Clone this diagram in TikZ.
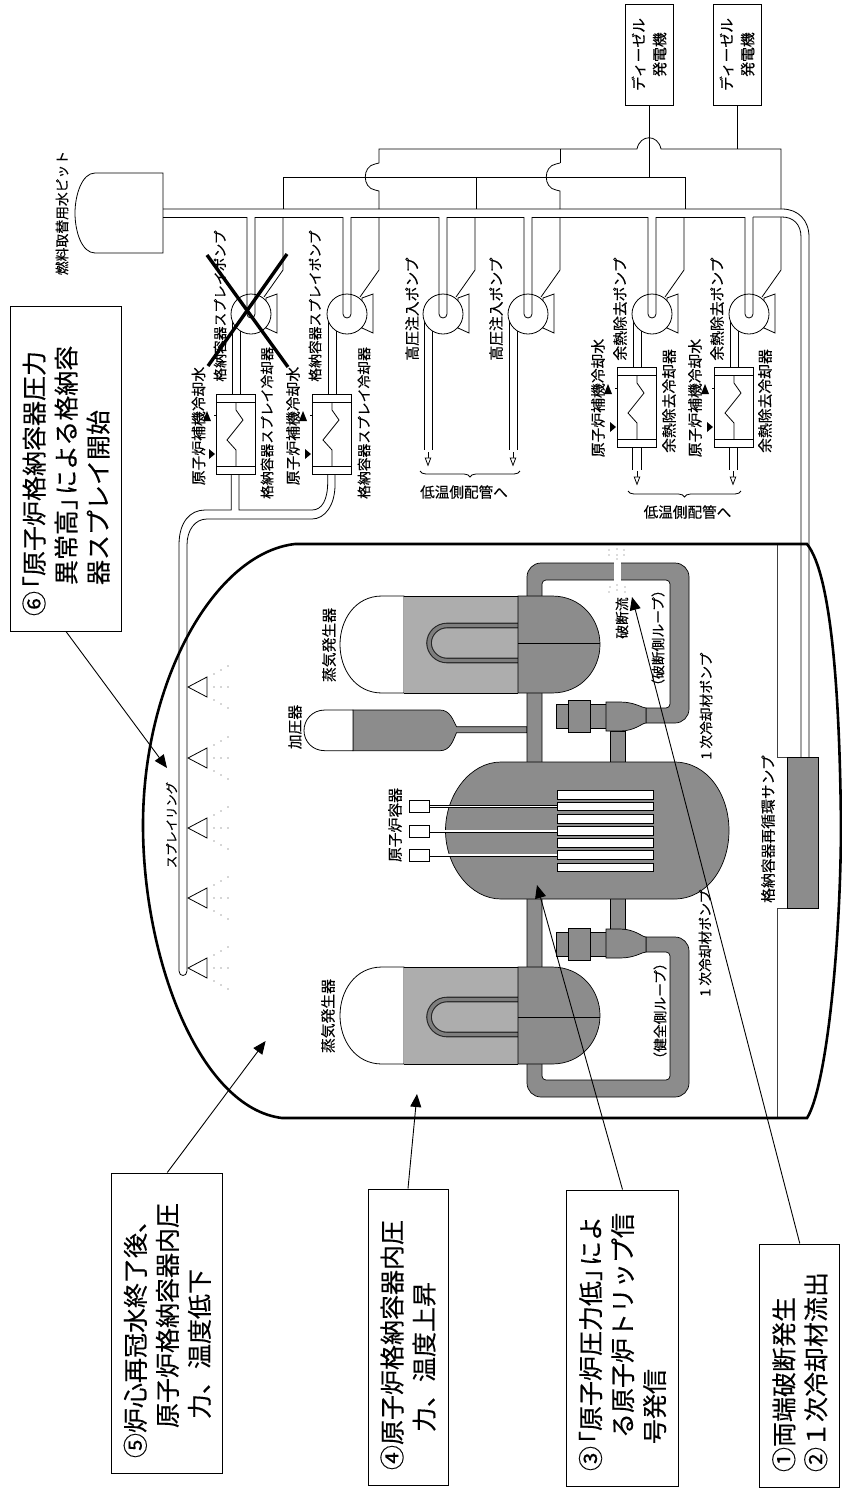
\documentclass[tikz,border=0pt]{standalone}
\usepackage{fontspec}
\setmainfont{Noto Sans CJK JP}[FakeBold=0.25]
\usetikzlibrary{arrows.meta, decorations.pathreplacing}
\definecolor{coolant}{gray}{0.55}
\definecolor{secondary}{gray}{0.68}
\tikzset{
  pipe/.style={line width=0.8pt, draw=black},
  shell/.style={line width=0.7pt, draw=black, fill=coolant},
  steam/.style={line width=0.7pt, draw=black, fill=secondary},
  vesselwall/.style={line width=2.6pt, draw=black},
  partlabel/.style={rotate=90, inner sep=0pt, font=\fontsize{13.8}{16}\selectfont},
  widelabel/.style={rotate=90, inner sep=0pt, font=\fontsize{14.8}{16}\selectfont},
  flatlabel/.style={inner sep=0pt, font=\fontsize{14.6}{16}\selectfont},
  dieselbox/.style={rectangle, draw=black, line width=0.9pt, rotate=90, align=center, minimum width=101pt, minimum height=48pt, inner sep=0pt, font=\fontsize{14.8}{21}\selectfont},
  stepbox/.style 2 args={rectangle, draw=black, line width=1pt, rotate=90, align=left, minimum width=#1, minimum height=#2, text width={#1-30pt}, inner sep=0pt, font=\fontsize{25}{32}\selectfont},
  callout/.style={line width=0.9pt, -{Triangle[length=13pt,width=11pt]}},
  outflow/.style={line width=0.8pt, -{Triangle[open,length=9pt,width=6.5pt,fill=white]}},
  crossout/.style={line width=3.4pt, draw=black}
}
\begin{document}
\begin{tikzpicture}[x=1pt, y=-1pt]
  \useasboundingbox (0,0) rectangle (841,1489);

  % Tank and main header
  \draw[pipe] (163,173) -- (95,173) .. controls (82,173) and (75,195) .. (75,213) .. controls (75,232) and (82,253) .. (95,253) -- (163,253) -- cycle;
  \draw[pipe] (163,209) -- (782,209) .. controls (798,209) and (809,220) .. (809,237) -- (809,757);
  \draw[pipe] (753,217) -- (782,217) .. controls (793,217) and (801,224) .. (801,237) -- (801,757);
  \foreach \xa/\xb in {163/247, 255/343, 351/439, 447/524, 532/648, 656/745}
    \draw[pipe] (\xa,217) -- (\xb,217);

  % Power supply lines
  \draw[pipe] (283,209) -- (283,177) -- (685,177) -- (685,209);
  \draw[pipe] (476,177) -- (476,209);
  \draw[pipe] (379,163) -- (379,149) -- (637,149) .. controls (640,134) and (658,134) .. (661,149) -- (781,149) -- (781,209);
  \draw[pipe] (560,163) -- (560,149);
  \foreach \hx in {379,560}
    \draw[pipe] (\hx,163) -- (\hx-4,164) .. controls (\hx-17,166) and (\hx-17,188) .. (\hx-4,190) -- (\hx,191) -- (\hx,209);

  % Pumps
  \foreach \cx/\oy in {251/394, 347/394, 443/450, 528/450, 652/367, 749/367} {
    \begin{scope}[shift={(\cx,314)}]
      \draw[pipe] (32,-97) -- (32,-44) -- (13,-17);
      \draw[pipe] (-19,0) -- (-19,\oy-314);
      \draw[pipe] (-11,0) -- (-11,\oy-314);
      \draw[pipe, fill=white] (15,-16) -- (26,-20) -- (26,19) -- (15,14) -- cycle;
      \draw[pipe, fill=white] (0,0) circle[radius=20pt];
      \draw[pipe, rounded corners=4pt] (-4,-97) -- (-4,4) -- (4,4) -- (4,-97);
    \end{scope}
  }

  % Coolers
  \foreach \cx/\hy in {251/394, 347/394, 652/367, 749/367} {
    \begin{scope}[shift={(\cx,\hy)}]
      \draw[pipe, fill=white] (-35,0) rectangle (4,80);
      \draw[pipe] (-35,8) -- (4,8);
      \draw[pipe] (-35,72) -- (4,72);
      \draw[pipe] (-15,8) -- (-15,16) -- (-8,26) -- (-24,46) -- (-15,56) -- (-15,72);
      \fill (-48,27) -- (-44,17) -- (-40,27) -- cycle;
      \draw[pipe] (-37,21) -- (-35,21);
      \fill (-42,55) -- (-36,60) -- (-42,65) -- cycle;
    \end{scope}
  }

  % Pipes to cold leg
  \foreach \px in {632,641,729,737}
    \draw[pipe] (\px,447) -- (\px,470);
  \foreach \ax/\ay in {428/452, 513/452, 637/471, 733/471}
    \draw[outflow] (\ax,\ay) -- (\ax,\ay+14.5);
  \draw[pipe, decorate, decoration={brace, amplitude=6pt}] (520,471) -- (420,471);
  \draw[pipe, decorate, decoration={brace, amplitude=6pt}] (741,491) -- (628,491);

  % Spray line and ring
  \draw[pipe] (231.3,474) -- (231.3,510) -- (205,510) .. controls (190,510) and (179,522) .. (179,545) -- (179,971) .. controls (179,977) and (187,977) .. (187,971) -- (187,545) .. controls (187,530) and (195,519) .. (207,519) -- (312,519) .. controls (325,519) and (335,505) .. (335,485) -- (335,474);
  \draw[pipe] (239,474) -- (239,510) -- (312,510) .. controls (322,510) and (327.7,500) .. (327.7,482) -- (327.7,474);
  \foreach \ny in {687,758,828,898,968} {
    \begin{scope}[shift={(0,\ny)}]
      \draw[pipe, fill=white] (188,0) -- (207,-10) -- (207,10) -- cycle;
      \foreach \dx/\dy in {214/13, 221/17, 228/21} {
        \fill[black!70] (\dx,-\dy) circle[radius=0.6pt];
        \fill[black!70] (\dx,0) circle[radius=0.6pt];
        \fill[black!70] (\dx,\dy) circle[radius=0.6pt];
      }
    \end{scope}
  }

  % Pressurizer
  \draw[shell] (353,710) -- (440,710) .. controls (450,710) and (453,720) .. (456.5,726.7) -- (527,726.7) -- (527,732.7) -- (456.5,732.7) .. controls (453,741) and (450,750.7) .. (440,750.7) -- (353,750.7) -- cycle;
  \draw[pipe, fill=white] (353,710) -- (325,710) .. controls (312,710) and (304,720) .. (304,730.5) .. controls (304,741) and (312,750.7) .. (325,750.7) -- (353,750.7) -- cycle;

  % Primary loops, mirrored about the vessel
  \foreach \s in {1,-1} {
    \begin{scope}[shift={(0,830)}, yscale=\s]
      \draw[shell] (527,-68) -- (527,-230) [rounded corners=14pt] -- (527,-267) -- (689,-267) -- (689,-107) [rounded corners=0pt] -- (646,-107) -- (646,-122) [rounded corners=4pt] -- (670,-122) -- (670,-250) -- (542,-250) [rounded corners=0pt] -- (542,-68);
      % Pump
      \draw[shell] (610,-99) rectangle (625,-68);
      \draw[shell] (556,-126) rectangle (606,-102);
      \draw[shell] (568,-130) rectangle (590,-98);
      \draw[shell] (606,-128) -- (620,-128) .. controls (635,-128) and (642,-122) .. (646,-122) -- (646,-107) .. controls (642,-107) and (635,-99) .. (620,-99) -- (606,-99) -- cycle;
      % Steam generator
      \draw[pipe, fill=white] (404,-234) -- (382,-234) .. controls (355,-234) and (340,-210) .. (340,-185.5) .. controls (340,-161) and (355,-137) .. (382,-137) -- (404,-137) -- cycle;
      \fill[secondary] (404,-234) rectangle (518,-137);
      \draw[pipe] (404,-234) -- (518,-234);
      \draw[pipe] (404,-137) -- (518,-137);
      \draw[line width=5.6pt, draw=black!85, line cap=butt, rounded corners=18pt] (518,-204.5) -- (429,-204.5) -- (429,-169.5) -- (518,-169.5);
      \draw[line width=3.4pt, draw=coolant!90!black, line cap=butt, rounded corners=18pt] (518,-204.5) -- (429,-204.5) -- (429,-169.5) -- (518,-169.5);
      \draw[shell] (518,-234) -- (552,-234) .. controls (582,-234) and (600,-210) .. (600,-185.5) .. controls (600,-161) and (582,-137) .. (552,-137) -- (518,-137) -- cycle;
      \draw[pipe] (518,-187) -- (600,-187);
    \end{scope}
  }

  % Reactor vessel
  \draw[shell] (501,762) -- (674,762) .. controls (708,762) and (729,795) .. (729,830.5) .. controls (729,866) and (708,899) .. (674,899) -- (501,899) .. controls (470,899) and (445.5,866) .. (445.5,830.5) .. controls (445.5,795) and (470,762) .. (501,762) -- cycle;
  \foreach \fy in {795,806.5,819,831,843,855,867.3}
    \draw[pipe, fill=white] (557,\fy-4.3) rectangle (653,\fy+4.3);
  \foreach \ry in {806.7,831,855} {
    \draw[line width=3pt] (429,\ry) -- (557,\ry);
    \draw[line width=1.3pt, white] (429,\ry) -- (557,\ry);
    \draw[pipe, fill=white] (409,\ry-6) rectangle (429,\ry+6);
  }

  % Break
  \fill[white] (614,562) rectangle (621,582);
  \foreach \bx/\by in {609/550, 617/549, 624/550, 609/555, 617/555, 624/555, 617/559, 610/587, 617/585, 625/587, 609/592, 617/590, 625/592}
    \fill[black!60] (\bx,\by) circle[radius=0.6pt];

  % Sump and floor
  \draw[pipe, draw=black!75] (777.5,544) -- (777.5,757) -- (787.5,757);
  \draw[pipe, draw=black!75] (787.5,908) -- (777.5,908) -- (777.5,1118);
  \draw[shell] (787.5,757) rectangle (818,908);

  % Containment
  \draw[vesselwall] (295,544) -- (807,544) .. controls (832,575) and (840,700) .. (841,830) .. controls (840,960) and (825,1090) .. (807,1118) -- (282,1118) .. controls (200,1108) and (143,960) .. (143,825) .. controls (143,680) and (215,553) .. (295,544) -- cycle;

  % Labels
  \node (pit) [partlabel] at (62,213) {燃料取替用水ピット};
  \node (sprayA) [partlabel] at (220,306) {格納容器スプレイポンプ};
  \node (sprayB) [partlabel] at (315,306) {格納容器スプレイポンプ};
  \node (coolA) [partlabel] at (267,423) {格納容器スプレイ冷却器};
  \node (coolB) [partlabel] at (364,423) {格納容器スプレイ冷却器};
  \node (ccwA) [widelabel] at (198.5,426) {原子炉補機冷却水};
  \node (ccwB) [widelabel] at (293,426) {原子炉補機冷却水};
  \node (ccwC) [widelabel] at (598,398) {原子炉補機冷却水};
  \node (ccwD) [widelabel] at (695,398) {原子炉補機冷却水};
  \node (hpA) [widelabel] at (412,309) {高圧注入ポンプ};
  \node (hpB) [widelabel] at (496,309) {高圧注入ポンプ};
  \node (rhrA) [widelabel] at (620,309) {余熱除去ポンプ};
  \node (rhrB) [widelabel] at (717,309) {余熱除去ポンプ};
  \node (rhrcoolA) [widelabel] at (669,401) {余熱除去冷却器};
  \node (rhrcoolB) [widelabel] at (765,401) {余熱除去冷却器};
  \node (coldA) [flatlabel] at (464,492) {低温側配管へ};
  \node (coldB) [flatlabel] at (687.5,512) {低温側配管へ};
  \node (ring) [partlabel, font=\fontsize{12.3}{14}\selectfont] at (171.5,825) {スプレイリング};
  \node (sgA) [widelabel] at (329,645) {蒸気発生器};
  \node (sgB) [widelabel] at (328,1016) {蒸気発生器};
  \node (prz) [widelabel] at (295,727) {加圧器};
  \node (rv) [widelabel] at (395,825) {原子炉容器};
  \node (brk) [partlabel] at (622,618) {破断流};
  \node (loopA) [partlabel] at (658,638) {（破断側ループ）};
  \node (loopB) [partlabel] at (660,1011) {（健全側ループ）};
  \node (rcpA) [partlabel] at (706,706) {1 次冷却材ポンプ};
  \node (rcpB) [partlabel] at (705,943) {1 次冷却材ポンプ};
  \node (sump) [widelabel] at (768,829) {格納容器再循環サンプ};

  % Diesel generators
  \node (dieselA) [dieselbox] at (649,54.5) {ディーゼル\\発電機};
  \node (dieselB) [dieselbox] at (737,54.5) {ディーゼル\\発電機};
  \draw[pipe] (dieselA.west) -- (649,177);
  \draw[pipe] (dieselB.west) -- (737,149);

  % Event boxes
  \node (stepsix) [stepbox={325pt}{111pt}] at (66,468.5) {⑥\kern-10pt「原子炉格納容器圧力\\\hspace*{31pt}異常高」\kern-10pt による格納容\\\hspace*{31pt}器スプレイ開始};
  \node (stepfive) [stepbox={300pt}{111pt}] at (167.3,1323) {⑤炉心再冠水終了後、\\\hspace*{30pt}原子炉格納容器内圧\\\hspace*{39pt}力、温度低下};
  \node (stepfour) [stepbox={296pt}{80pt}] at (408,1337) {④原子炉格納容器内圧\\\hspace*{38pt}力、温度上昇};
  \node (stepthree) [stepbox={296pt}{112pt}] at (622.5,1338) {③\kern-10pt「原子炉圧力低」\kern-10pt によ\\\hspace*{33pt}る原子炉トリップ信\\\hspace*{27pt}号発信};
  \node (stepone) [stepbox={243pt}{80pt}] at (799.8,1365.5) {①両端破断発生\\②１次冷却材流出};

  % Callouts
  \coordinate (tipbreak) at (632,597);
  \coordinate (tipcore) at (537,885);
  \coordinate (tipcv) at (417,1094);
  \coordinate (tipair) at (265.6,1041);
  \coordinate (tipring) at (167,768);
  \draw[callout] (stepone.east) -- (tipbreak);
  \draw[callout] (stepthree.east) -- (tipcore);
  \draw[callout] (stepfour.east) -- (tipcv);
  \draw[callout] (stepfive.east) -- (tipair);
  \draw[callout] (stepsix.west) -- (tipring);

  % Failed spray train
  \draw[crossout] (207,255) -- (288,367);
  \draw[crossout] (287,254) -- (208,366);
\end{tikzpicture}
\end{document}
